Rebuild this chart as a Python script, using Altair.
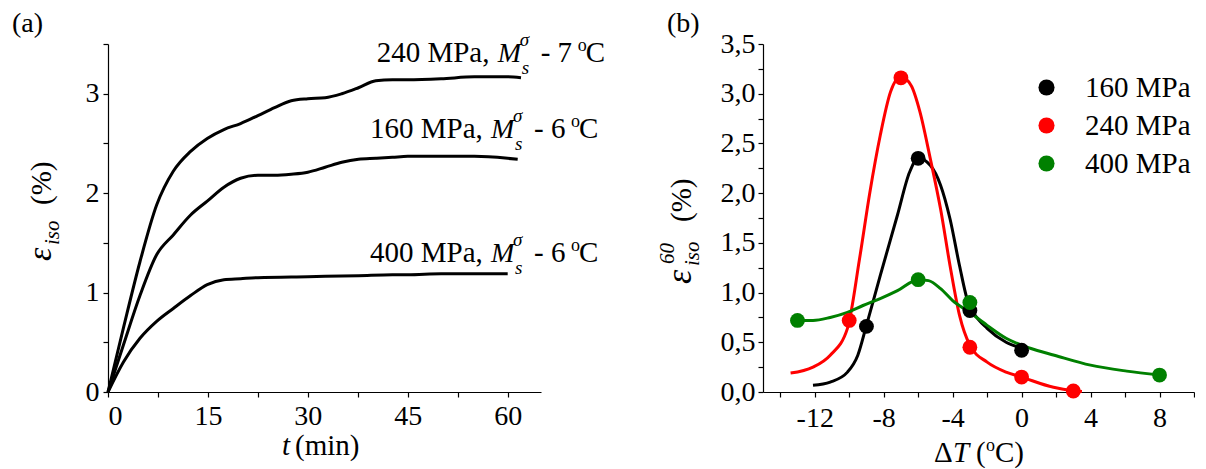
import altair as alt
import pandas as pd

FONT = "'Liberation Serif', 'Times New Roman', Times, serif"

# ---------------- Panel (a) data ----------------
t_240 = [0, 2.3, 4.8, 7.3, 9.8, 12.4, 14.9, 17.4, 19.9, 22.5, 25, 27.5, 30, 32.6, 35.1, 37.6, 40.2, 42.7, 45, 50, 55, 60, 62]
v_240 = [0, 0.64, 1.31, 1.88, 2.22, 2.42, 2.55, 2.64, 2.70, 2.78, 2.86, 2.93, 2.95, 2.96, 3.00, 3.06, 3.13, 3.14, 3.14, 3.15, 3.17, 3.17, 3.16]
t_160 = [0, 2.3, 4.8, 7.3, 9.8, 12.4, 14.9, 17.4, 19.9, 22.5, 25, 27.5, 30, 32.6, 35.1, 37.6, 40.2, 42.7, 45, 50, 55, 60, 61.5]
v_160 = [0, 0.47, 0.97, 1.38, 1.58, 1.78, 1.92, 2.06, 2.15, 2.18, 2.18, 2.19, 2.21, 2.26, 2.31, 2.34, 2.35, 2.36, 2.37, 2.37, 2.37, 2.35, 2.34]
t_400 = [0, 2.3, 4.8, 7.3, 9.8, 12.4, 14.9, 17.4, 19.9, 22.5, 30, 37.6, 42.7, 45, 50, 55, 60]
v_400 = [0, 0.30, 0.54, 0.71, 0.84, 0.97, 1.08, 1.13, 1.14, 1.15, 1.16, 1.17, 1.18, 1.18, 1.19, 1.19, 1.19]

ann_label = ["240 MPa,", "160 MPa,", "400 MPa,"]
ann_temp = ["- 7", "- 6", "- 6"]
ann_t = [40.33, 39.33, 39.33]
ann_v = [3.316, 2.551, 1.304]

# ---------------- Panel (b) data ----------------
series_b = ["160 MPa", "240 MPa", "400 MPa"]
colors_b = ["#000000", "#ff0000", "#008000"]

pt_160_x = [-9, -6, -3, 0]
pt_160_y = [0.66, 2.35, 0.82, 0.42]
pt_240_x = [-10, -7, -3, 0, 3]
pt_240_y = [0.72, 3.16, 0.45, 0.15, 0.01]
pt_400_x = [-13, -6, -3, 8]
pt_400_y = [0.72, 1.13, 0.90, 0.17]

fit_160_x = [-12.1, -11.1, -10.1, -9.5, -9.0, -8.2, -7.2, -6.5, -6.0, -5.3, -4.7, -4.15, -3.6, -3.1, -2.8, -2.0, -0.9, 0]
fit_160_y = [0.067, 0.10, 0.20, 0.37, 0.67, 1.17, 1.78, 2.21, 2.35, 2.28, 2.08, 1.74, 1.27, 0.90, 0.80, 0.64, 0.50, 0.44]
fit_240_x = [-13.4, -12.1, -11.1, -10.1, -9.4, -8.8, -8.2, -7.6, -7.0, -6.4, -5.9, -5.3, -4.7, -4.15, -3.6, -3.0, -2.0, -0.9, 0, 1.85, 3.0, 3.5]
fit_240_y = [0.19, 0.25, 0.37, 0.64, 1.34, 2.01, 2.58, 3.02, 3.17, 3.08, 2.82, 2.35, 1.84, 1.27, 0.77, 0.47, 0.30, 0.20, 0.15, 0.047, 0.013, 0.005]
fit_400_x = [-13, -12.1, -11.1, -10.1, -9.2, -8.2, -7.2, -6.0, -5.4, -4.7, -4.0, -3.0, -2.0, -0.9, 0.5, 1.9, 4.0, 6.1, 8.0]
fit_400_y = [0.72, 0.72, 0.75, 0.80, 0.87, 0.94, 1.02, 1.13, 1.12, 1.04, 0.92, 0.80, 0.67, 0.54, 0.44, 0.37, 0.27, 0.21, 0.17]

# ---------------- Tables ----------------
df_a = pd.concat([
    pd.DataFrame({"t": t_240, "v": v_240, "s": "240"}),
    pd.DataFrame({"t": t_160, "v": v_160, "s": "160"}),
    pd.DataFrame({"t": t_400, "v": v_400, "s": "400"}),
])
df_ann = pd.DataFrame({"label": ann_label, "temp": ann_temp, "t": ann_t, "v": ann_v})

df_pts = pd.concat([
    pd.DataFrame({"x": pt_160_x, "y": pt_160_y, "s": series_b[0]}),
    pd.DataFrame({"x": pt_240_x, "y": pt_240_y, "s": series_b[1]}),
    pd.DataFrame({"x": pt_400_x, "y": pt_400_y, "s": series_b[2]}),
])
fits = [(fit_160_x, fit_160_y), (fit_240_x, fit_240_y), (fit_400_x, fit_400_y)]
one = pd.DataFrame({"k": [0]})

W_A, W_B, H = 433, 431, 348

# ---------------- Panel (a) ----------------
xa = alt.X("t:Q", scale=alt.Scale(domain=[0, 65], nice=False, zero=False),
           axis=alt.Axis(title=None, values=[0, 7.5, 15, 22.5, 30, 37.5, 45, 52.5, 60],
                         labelExpr="datum.value % 15 === 0 ? '' + datum.value : ''",
                         labelPadding=5))
ya = alt.Y("v:Q", scale=alt.Scale(domain=[0, 3.5], nice=False),
           axis=alt.Axis(title=None, values=[0, 0.5, 1, 1.5, 2, 2.5, 3, 3.5],
                         labelExpr="datum.value % 1 === 0 ? '' + datum.value : ''",
                         labelPadding=4))

lines_a = alt.Chart(df_a).mark_line(color="black", strokeWidth=3, interpolate="monotone").encode(
    x=xa, y=ya, detail="s:N")

base_ann = alt.Chart(df_ann).encode(x=xa, y=ya)
tk = dict(align="left", baseline="alphabetic", font=FONT, color="black")
ann_layers = [
    base_ann.mark_text(fontSize=29, **tk).encode(text="label:N"),
    base_ann.mark_text(fontSize=28, fontStyle="italic", dx=121, **tk).encode(text=alt.value("M")),
    base_ann.mark_text(fontSize=19, fontStyle="italic", dx=143, dy=-16, **tk).encode(text=alt.value("σ")),
    base_ann.mark_text(fontSize=19, fontStyle="italic", dx=145, dy=12, **tk).encode(text=alt.value("s")),
    base_ann.mark_text(fontSize=29, dx=164, **tk).encode(text="temp:N"),
    base_ann.mark_text(fontSize=18, dx=201, dy=-11, **tk).encode(text=alt.value("o")),
    base_ann.mark_text(fontSize=29, dx=209, **tk).encode(text=alt.value("C")),
]

def txt(text, x, y, size=27, style="normal", angle=0, dx=0, dy=0):
    return alt.Chart(one).mark_text(align="left", baseline="alphabetic", font=FONT, color="black",
                                    fontSize=size, fontStyle=style, angle=angle, dx=dx, dy=dy).encode(
        x=alt.value(x), y=alt.value(y), text=alt.value(text))

labels_a = [
    txt("(a)", -96, -12, size=28),
    # y title (rotated)
    txt("ε", -57, 217, size=34, style="italic", angle=270),
    txt("iso", -57, 217, size=21, style="italic", angle=270, dx=16, dy=8),
    txt("(%)", -57, 217, size=29, angle=270, dx=56),
    # x title
    txt("t", 174, 411, size=29, style="italic"),
    txt("(min)", 187, 411, size=29),
]

panel_a = alt.layer(lines_a, *ann_layers, *labels_a).properties(width=W_A, height=H)

# ---------------- Panel (b) ----------------
xb = alt.X("x:Q", scale=alt.Scale(domain=[-15, 10], nice=False, zero=False),
           axis=alt.Axis(title=None, values=[-14, -12, -10, -8, -6, -4, -2, 0, 2, 4, 6, 8, 10],
                         labelExpr="datum.value % 4 === 0 ? '' + datum.value : ''",
                         labelPadding=7))
yb = alt.Y("y:Q", scale=alt.Scale(domain=[0, 3.5], nice=False),
           axis=alt.Axis(title=None, values=[i * 0.25 for i in range(15)],
                         labelExpr="(datum.value * 2) % 1 === 0 ? replace(format(datum.value, '.1f'), '.', ',') : ''",
                         labelPadding=3))

fit_layers = [
    alt.Chart(pd.DataFrame({"x": fx, "y": fy})).mark_line(
        strokeWidth=3, interpolate="monotone", color=col).encode(x=xb, y=yb)
    for (fx, fy), col in zip(fits, colors_b)
]
# legend position is measured from the origin of the whole concatenated chart
pts_b = alt.Chart(df_pts).mark_circle(size=220, opacity=1).encode(
    x=xb, y=yb,
    color=alt.Color("s:N", scale=alt.Scale(domain=series_b, range=colors_b),
                    legend=alt.Legend(orient="none", legendX=924, legendY=29, title=None,
                                      symbolType="circle", symbolSize=260, symbolStrokeWidth=0,
                                      symbolOpacity=1,
                                      labelFont=FONT, labelFontSize=29, labelColor="black",
                                      labelOffset=24, rowPadding=8)))

labels_b = [
    txt("(b)", -96, -12, size=28),
    txt("ε", -72, 240, size=36, style="italic", angle=270),
    txt("60", -72, 240, size=21, style="italic", angle=270, dx=20, dy=-17),
    txt("iso", -72, 240, size=21, style="italic", angle=270, dx=18, dy=8),
    txt("(%)", -72, 240, size=29, angle=270, dx=62),
    txt("Δ", 171, 418, size=29),
    txt("T", 190, 418, size=29, style="italic"),
    txt("(", 213, 418, size=29),
    txt("o", 223, 418, size=18, dy=-11),
    txt("C)", 232, 418, size=29),
]

panel_b = alt.layer(*fit_layers, pts_b, *labels_b).properties(width=W_B, height=H)

chart = alt.hconcat(panel_a, panel_b, spacing=222, bounds="flush").properties(
    padding={"left": 4, "top": 2, "right": 0, "bottom": 0}
).configure_axis(
    labelFont=FONT, labelFontSize=28, labelColor="black", domainColor="black",
    tickColor="black", tickSize=5, domainWidth=1.2, tickWidth=1.2, grid=False
).configure_view(stroke=None)

chart.save("out.html", embed_options={"renderer": "svg", "actions": False})
